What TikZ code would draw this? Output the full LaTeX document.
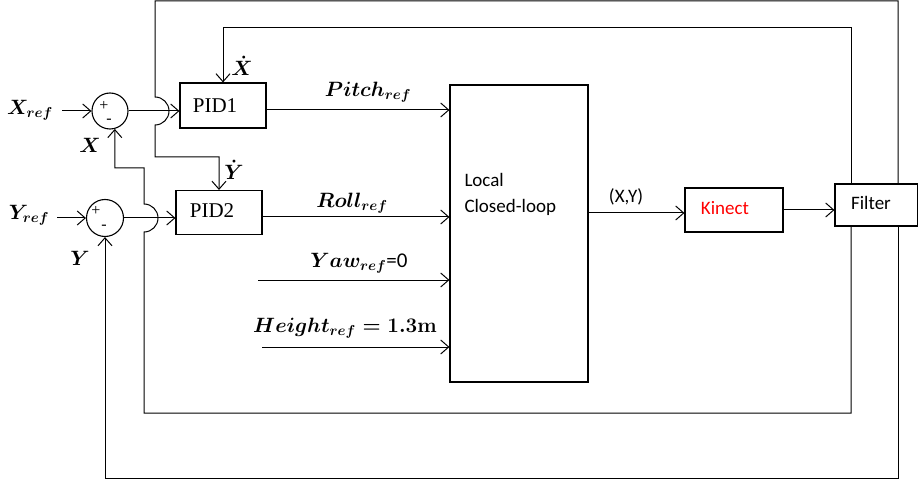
\documentclass[tikz,border=0pt]{standalone}
\usepackage{fontspec}
\setmainfont{Liberation Serif}
\newfontfamily\calib{Carlito}
\usetikzlibrary{arrows.meta}
\begin{document}
\begin{tikzpicture}[x=1pt,y=-1pt,line width=1pt,
  >={Straight Barb[length=8pt,width=14pt]},
  blk/.style={draw,rectangle,inner sep=0pt,line width=1.1pt},
  sumnode/.style={draw,circle,inner sep=0pt,line width=1.1pt},
  mlbl/.style={inner sep=0pt,font=\fontsize{21}{24}\selectfont\boldmath},
  sgn/.style={inner sep=0pt,font=\fontsize{16}{18}\selectfont},
  ptxt/.style={inner sep=0pt,font=\fontsize{21}{24}\selectfont},
  stxt/.style={inner sep=0pt,font=\calib\fontsize{19}{26}\selectfont}]
\useasboundingbox (0,0) rectangle (918,481);
% blocks
\node[sumnode,minimum size=36pt] (s1) at (110,111) {};
\node[sumnode,minimum size=37pt] (s2) at (105,218) {};
\node[sgn] (s1p) at (104,106) {+};
\node[sgn] (s1m) at (109,121) {-};
\node[sgn] (s2p) at (96,211) {+};
\node[sgn] (s2m) at (104,227) {-};
\node[blk,minimum width=86pt,minimum height=45pt] (pid1) at (223,105.5) {};
\node[ptxt] (pid1t) at (215,106) {PID1};
\node[blk,minimum width=86pt,minimum height=44pt] (pid2) at (219,212.5) {};
\node[ptxt] (pid2t) at (212,211) {PID2};
\node[blk,minimum width=138pt,minimum height=297pt] (local) at (519,233.5) {};
\node[stxt,anchor=west,align=left] (localt) at (464,194) {Local\\Closed-loop};
\node[blk,minimum width=98pt,minimum height=44pt] (kinect) at (734,210) {};
\node[stxt,text=red] (kinectt) at (725,208) {Kinect};
\node[blk,minimum width=83pt,minimum height=42pt] (filter) at (876.5,205) {};
\node[stxt] (filtert) at (871,203) {Filter};
% labels
\node[mlbl] (xref) at (30,110) {$X_{ref}$};
\node[mlbl] (yref) at (29,215) {$Y_{ref}$};
\node[mlbl] (xfb) at (90,145) {$X$};
\node[mlbl] (yfb) at (80,258) {$Y$};
\node[mlbl] (xdot) at (242,66) {$\dot{X}$};
\node[mlbl] (ydot) at (234,170) {$\dot{Y}$};
\node[mlbl] (pitch) at (368,92) {$Pitch_{ref}$};
\node[mlbl] (roll) at (352,203) {$Roll_{ref}$};
\node[mlbl] (yaw) at (359,263) {$Yaw_{ref}$\calib=0};
\node[mlbl] (height) at (345,328) {$Height_{ref}=\mathbf{1.3m}$};
\node[stxt] (xy) at (626,197) {(X,Y)};
% coordinates
\coordinate (xin) at (62,111);
\coordinate (yin) at (57,218);
\coordinate (yawin) at (258,280);
\coordinate (hin) at (262,347);
\coordinate (tA) at (851,28);
\coordinate (tB) at (898,1);
% forward path
\draw[->] (xin) -- (s1.west);
\draw[->] (yin) -- (s2.west);
\draw[->] (s1.east) -- (s1.east -| pid1.west);
\draw[->] (s2.east) -- (s2.east -| pid2.west);
\draw[->] ([yshift=-4.5pt]pid1.east) -- ([yshift=-4.5pt]pid1.east -| local.west);
\draw[->] ([yshift=-4.5pt]pid2.east) -- ([yshift=-4.5pt]pid2.east -| local.west);
\draw[->] (yawin) -- (yawin -| local.west);
\draw[->] (hin) -- (hin -| local.west);
\draw[->] ([yshift=-3pt]kinect.west -| local.east) -- ([yshift=-3pt]kinect.west);
\draw[->] (kinect.east) -- (kinect.east -| filter.west);
% feedback loops
\draw[->] (tA |- filter.north) -- (tA) -- (tA -| pid1.north) -- (pid1.north);
\draw[->] (tB |- filter.north) -- (tB) -- (155,1) -- (155,97)
  arc[start angle=90,end angle=-90,radius=14pt] -- (155,157) -- (pid2.north |- 0,157) -- (pid2.north);
\draw[->] (tA |- filter.south) -- (851,413) -- (144,413) -- (144,232)
  arc[start angle=-90,end angle=90,radius=14pt] -- (144,168) -- (s1.-75 |- 0,168) -- (s1.-75);
\draw[->] (tB |- filter.south) -- (898,478) -- (s2.south |- 0,478) -- (s2.south);
\end{tikzpicture}
\end{document}
